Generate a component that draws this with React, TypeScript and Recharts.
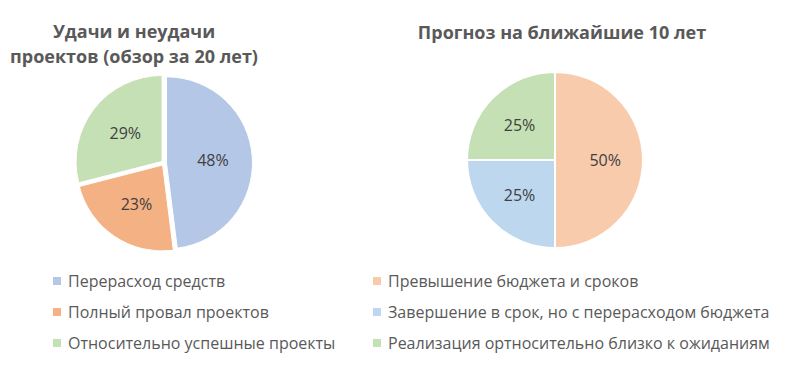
import { PieChart, Pie, Cell, Sector } from 'recharts';

// Данные: левая диаграмма (обзор за 20 лет)
const leftTitle = ['Удачи и неудачи', 'проектов (обзор за 20 лет)'];
const leftCategories = ['Перерасход средств', 'Полный провал проектов', 'Относительно успешные проекты'];
const leftValues = [48, 23, 29];
const leftColors = ['#B4C7E7', '#F4B183', '#C5E0B4'];

// Данные: правая диаграмма (прогноз)
const rightTitle = ['Прогноз на ближайшие 10 лет'];
const rightCategories = [
    'Превышение бюджета и сроков',
    'Завершение в срок, но с перерасходом бюджета',
    'Реализация ортносительно близко к ожиданиям',
];
const rightValues = [50, 25, 25];
const rightColors = ['#F8CBAD', '#BDD7EE', '#C5E0B4'];

const FONT = '"Open Sans", "Noto Sans", sans-serif';
const RAD = Math.PI / 180;

const toData = (cats: string[], vals: number[]) => cats.map((name, i) => ({ name, value: vals[i] }));

// метка процентов внутри сектора
const renderLabel = (props: any) => {
    const { cx, cy, midAngle, outerRadius, percent } = props;
    const r = outerRadius * 0.57;
    const x = cx + r * Math.cos(-midAngle * RAD);
    const y = cy + r * Math.sin(-midAngle * RAD);
    return (
        <text x={x} y={y} fill="#404040" fontSize={16} fontFamily={FONT} textAnchor="middle" dominantBaseline="central">
            {`${Math.round(percent * 100)}%`}
        </text>
    );
};

// "выдвинутый" сектор, как в Excel
const explodedShape = (props: any) => {
    const { cx, cy, midAngle } = props;
    const d = 2.5;
    return (
        <Sector
            {...props}
            cx={cx + d * Math.cos(-midAngle * RAD)}
            cy={cy + d * Math.sin(-midAngle * RAD)}
        />
    );
};

const Title = ({ lines, x, y }: { lines: string[]; x: number; y: number }) => (
    <div style={{ position: 'absolute', left: x - 160, top: y, width: 320, textAlign: 'center', fontFamily: FONT, fontWeight: 700, fontSize: 18, lineHeight: '25px', color: '#595959' }}>
        {lines.map(l => <div key={l}>{l}</div>)}
    </div>
);

const LegendList = ({ cats, colors, x, y }: { cats: string[]; colors: string[]; x: number; y: number }) => (
    <div style={{ position: 'absolute', left: x, top: y, fontFamily: FONT, fontSize: 16, color: '#595959' }}>
        {cats.map((c, i) => (
            <div key={c} style={{ display: 'flex', alignItems: 'center', height: 31, whiteSpace: 'nowrap' }}>
                <span style={{ display: 'inline-block', width: 8, height: 8, background: colors[i], marginRight: 7 }} />
                {c}
            </div>
        ))}
    </div>
);

export default function App() {
    return (
        <div style={{ position: 'absolute', left: 0, top: 0, width: 812, height: 391, background: '#fff', overflow: 'hidden' }}>
            <Title lines={leftTitle} x={134} y={19} />
            <Title lines={rightTitle} x={562} y={20} />
            <div style={{ position: 'absolute', left: 0, top: 0 }}>
                <PieChart width={812} height={391} margin={{ top: 0, right: 0, bottom: 0, left: 0 }}>
                    <Pie
                        data={toData(leftCategories, leftValues)}
                        dataKey="value"
                        cx={164}
                        cy={163}
                        outerRadius={86}
                        startAngle={90}
                        endAngle={-270}
                        stroke="#fff"
                        strokeWidth={1}
                        shape={explodedShape}
                        label={renderLabel}
                        labelLine={false}
                        isAnimationActive={false}
                    >
                        {leftValues.map((_, i) => <Cell key={i} fill={leftColors[i]} />)}
                    </Pie>
                    <Pie
                        data={toData(rightCategories, rightValues)}
                        dataKey="value"
                        cx={555}
                        cy={160}
                        outerRadius={88}
                        startAngle={90}
                        endAngle={-270}
                        stroke="#fff"
                        strokeWidth={2}
                        label={renderLabel}
                        labelLine={false}
                        isAnimationActive={false}
                    >
                        {rightValues.map((_, i) => <Cell key={i} fill={rightColors[i]} />)}
                    </Pie>
                </PieChart>
            </div>
            <LegendList cats={leftCategories} colors={leftColors} x={53} y={265} />
            <LegendList cats={rightCategories} colors={rightColors} x={373} y={265} />
        </div>
    );
}
